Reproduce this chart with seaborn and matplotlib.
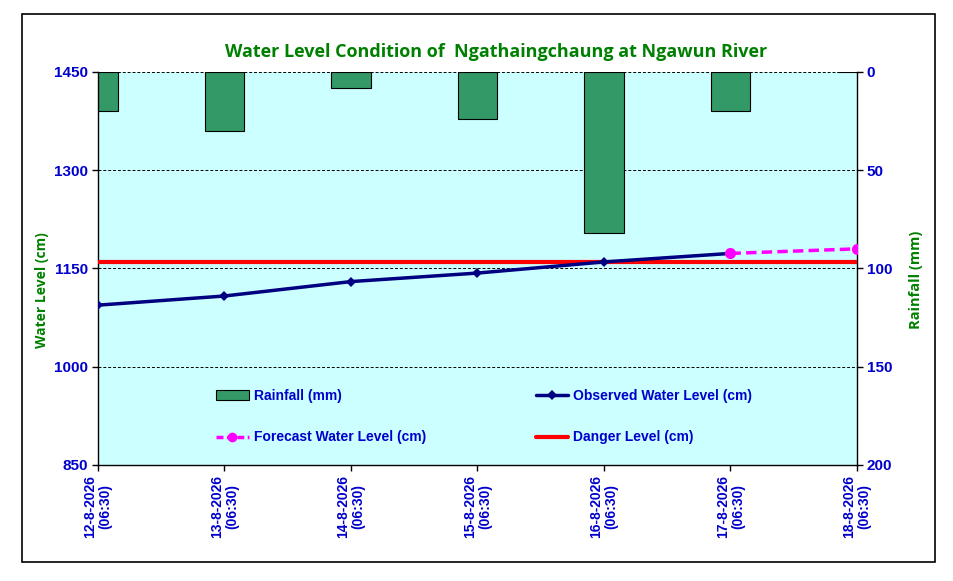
import matplotlib
matplotlib.use("Agg")
import matplotlib.pyplot as plt
import seaborn as sns
import pandas as pd
from matplotlib.patches import Rectangle
from matplotlib.lines import Line2D

# ==========================
# Data
# ==========================

dates = ["12-8-2026\n(06:30)", "13-8-2026\n(06:30)", "14-8-2026\n(06:30)",
         "15-8-2026\n(06:30)", "16-8-2026\n(06:30)", "17-8-2026\n(06:30)",
         "18-8-2026\n(06:30)"]

rainfall = [20, 30, 8, 24, 82, 20, 0]

observed = [1094, 1108, 1130, 1143, 1160, 1173]

forecast_dates = ["17-8-2026\n(06:30)", "18-8-2026\n(06:30)"]
forecast = [1173, 1180]

danger_level = 1160

left_ticks = [850, 1000, 1150, 1300, 1450]
right_ticks = [0, 50, 100, 150, 200]

# ==========================
# Style
# ==========================

sns.set_style("white")
plt.rcParams['font.family'] = ['Liberation Sans', 'DejaVu Sans']

blue = "#0000CC"
green = "#008000"
narrow = ['Liberation Sans Narrow', 'Liberation Sans', 'DejaVu Sans']
label_font = ['Open Sans', 'DejaVu Sans']

fig = plt.figure(figsize=(9.54, 5.81), dpi=100)

# outer chart border
fig.patches.append(Rectangle((0.023, 0.033), 0.957, 0.943,
                             transform=fig.transFigure, fill=False,
                             edgecolor="black", linewidth=1.2))

ax = fig.add_axes([0.1027, 0.1997, 0.7956, 0.6764])
ax2 = ax.twinx()

# ==========================
# Rainfall bars (right axis)
# ==========================

rain_df = pd.DataFrame({"x": range(len(dates)), "rain": rainfall})

sns.barplot(data=rain_df, x="x", y="rain", ax=ax2, color="#339966",
            saturation=1, width=0.31, edgecolor="black", linewidth=0.8)

ax2.set_ylim(200, 0)
ax2.set_yticks(right_ticks)
ax2.patch.set_visible(True)
ax2.set_facecolor("#CCFFFF")
ax2.yaxis.grid(True, color="black", linestyle=(0, (3, 2)), linewidth=0.7)
ax2.set_axisbelow(True)
ax2.set_ylabel("Rainfall (mm)", color=green, fontsize=10.5,
               fontweight="bold", family=label_font)
ax2.yaxis.set_label_coords(1.069, 0.47)

# ==========================
# Water levels (left axis)
# ==========================

ax.set_zorder(ax2.get_zorder() + 1)
ax.patch.set_visible(False)

obs_df = pd.DataFrame({"x": range(len(observed)), "level": observed})
fc_df = pd.DataFrame({"x": [dates.index(d) for d in forecast_dates],
                      "level": forecast})

ax.axhline(danger_level, color="#FF0000", linewidth=3, zorder=2)

sns.lineplot(data=obs_df, x="x", y="level", ax=ax, color="#000080",
             linewidth=2.5, marker="D", markersize=5, markeredgewidth=0,
             zorder=3)

sns.lineplot(data=fc_df, x="x", y="level", ax=ax, color="#FF00FF",
             linewidth=2.5, linestyle=(0, (3, 1.5)), marker="o",
             markersize=8, markeredgewidth=0, zorder=4)

ax.set_xlim(0, len(dates) - 1)
ax.set_ylim(850, 1450)
ax.set_yticks(left_ticks)
ax.set_xticks(range(len(dates)))
ax.set_xticklabels(dates, rotation=90, va="top", ha="center",
                   multialignment="center", fontsize=10,
                   fontweight="bold", color=blue, linespacing=1.1)
ax.set_xlabel("")
ax.set_ylabel("Water Level (cm)", color=green, fontsize=10,
              fontweight="bold", family=label_font)
ax.yaxis.set_label_coords(-0.064, 0.445)

for a in (ax, ax2):
    a.tick_params(axis="both", direction="out", length=4, width=1,
                  color="black", labelcolor=blue, pad=3)
    for lab in a.get_yticklabels():
        lab.set_fontweight("bold")
        lab.set_fontsize(11)
        lab.set_family(narrow)
    for s in a.spines.values():
        s.set_visible(False)

for s in ("bottom", "left", "right"):
    ax2.spines[s].set_visible(True)
    ax2.spines[s].set_color("black")
    ax2.spines[s].set_linewidth(1)
ax2.tick_params(axis="x", bottom=False, labelbottom=False)
ax.tick_params(axis="x", bottom=True)
ax.tick_params(axis="y", left=True)
ax2.tick_params(axis="y", right=True)

# ==========================
# Legend
# ==========================

handles = [
    Rectangle((0, 0), 1, 1, facecolor="#339966", edgecolor="black", linewidth=0.8),
    Line2D([], [], color="#FF00FF", linewidth=2.5, linestyle=(0, (2, 1)),
           marker="o", markersize=7, markeredgewidth=0),
    Line2D([], [], color="#000080", linewidth=2.5, marker="D", markersize=5,
           markeredgewidth=0),
    Line2D([], [], color="#FF0000", linewidth=3),
]
labels = ["Rainfall (mm)", "Forecast Water Level (cm)",
          "Observed Water Level (cm)", "Danger Level (cm)"]

leg = ax.legend(handles, labels, ncol=2, frameon=False,
                loc="upper left", bbox_to_anchor=(0.139, 0.226),
                handlelength=2.35, handletextpad=0.36, columnspacing=7.9,
                labelspacing=2.0, prop={"family": narrow, "weight": "bold",
                                        "size": 10})
for t in leg.get_texts():
    t.set_color(blue)

# ==========================
# Title
# ==========================

fig.text(0.52, 0.911, "Water Level Condition of  Ngathaingchaung at Ngawun River",
         ha="center", va="center", color=green, fontsize=13,
         fontweight="bold", family=label_font)

plt.savefig("out.png", dpi=100)
plt.close()
